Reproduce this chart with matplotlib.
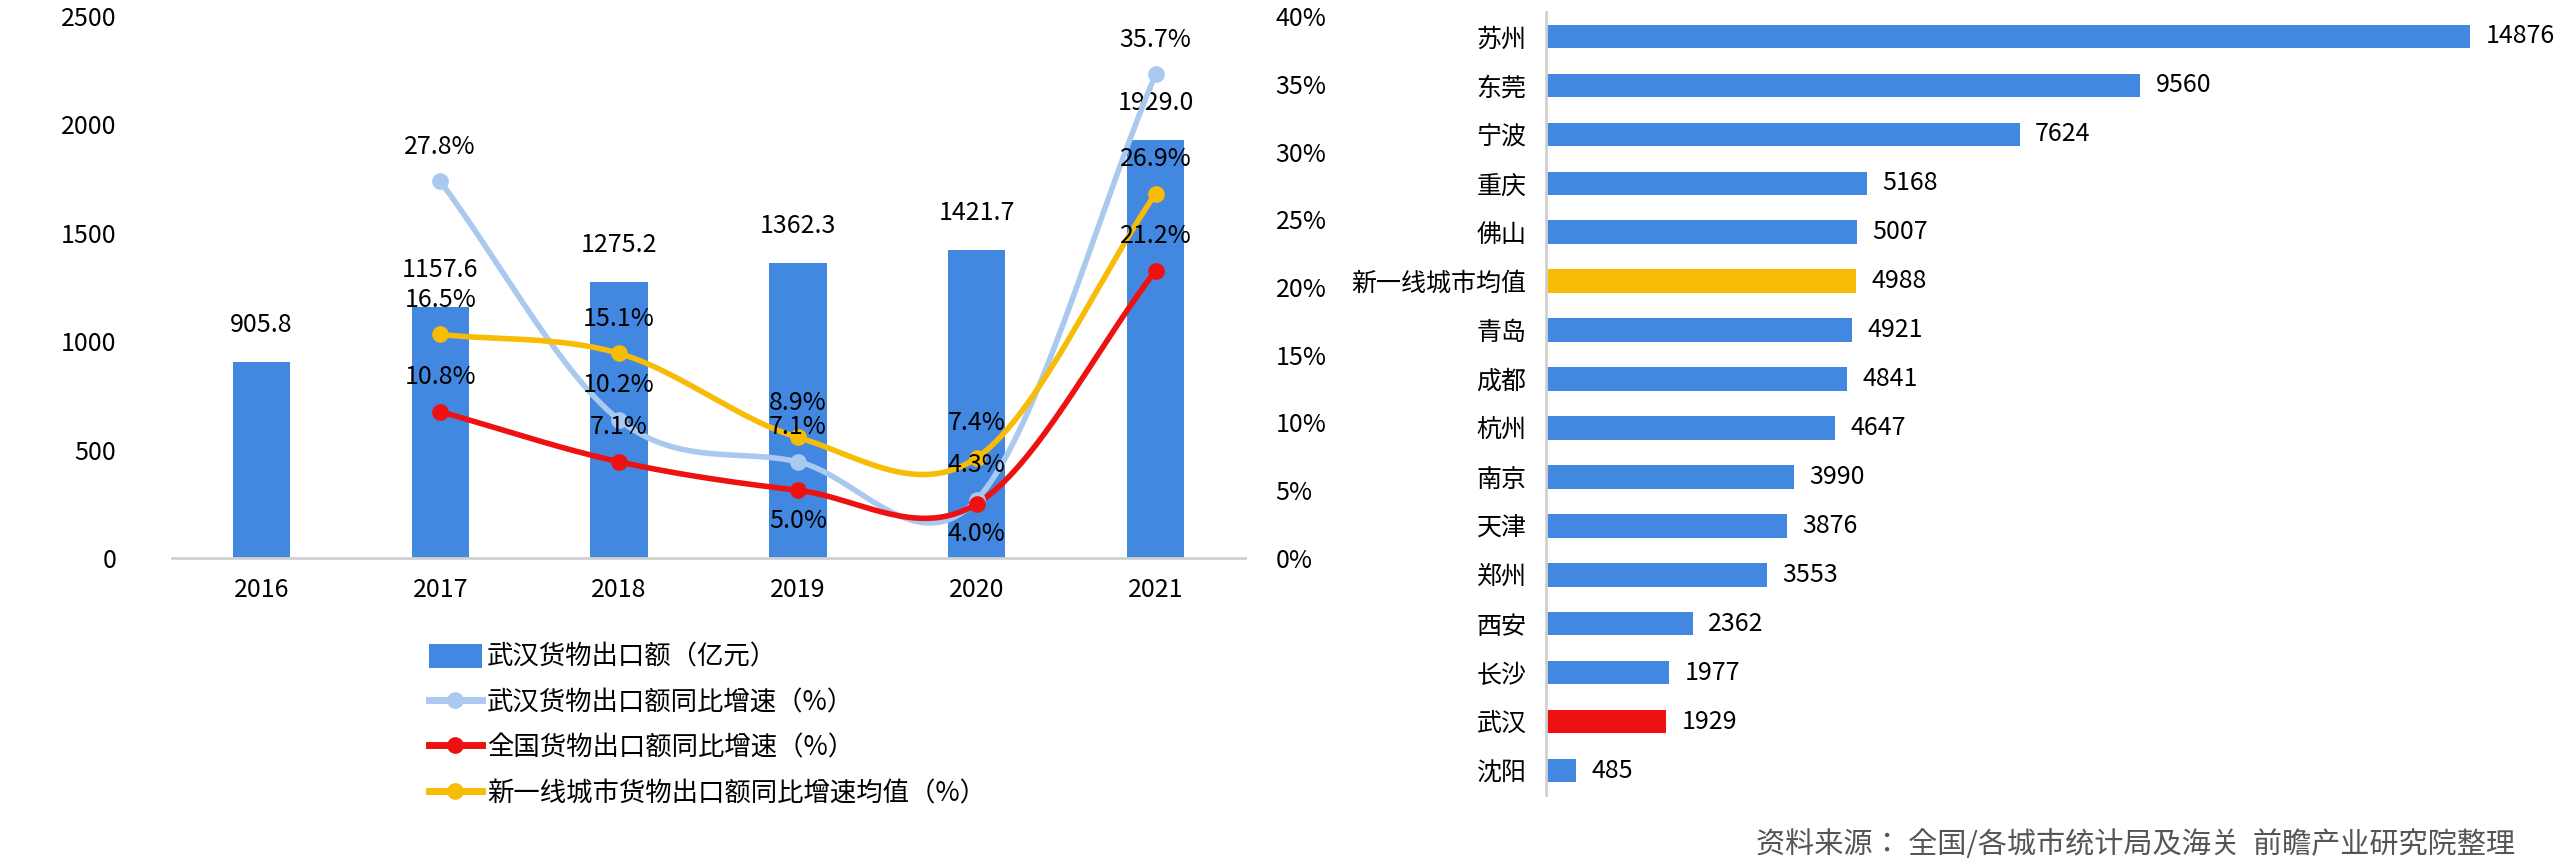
import numpy as np
import matplotlib
matplotlib.use("Agg")
import matplotlib.pyplot as plt
from matplotlib import font_manager as fm

cjk = sorted({f.name for f in fm.fontManager.ttflist if "CJK" in f.name})
pref = [n for n in ["Noto Sans CJK SC", "Noto Sans CJK JP"] if n in cjk] or cjk
plt.rcParams["font.family"] = (pref[:1] if pref else []) + ["DejaVu Sans"]

years = ["2016", "2017", "2018", "2019", "2020", "2021"]
export_val = [905.8, 1157.6, 1275.2, 1362.3, 1421.7, 1929.0]
wh_growth = [27.8, 10.2, 7.1, 4.3, 35.7]     # 2017-2021
cn_growth = [10.8, 7.1, 5.0, 4.0, 21.2]
t1_growth = [16.5, 15.1, 8.9, 7.4, 26.9]

cities = ["苏州", "东莞", "宁波", "重庆", "佛山", "新一线城市均值", "青岛", "成都", "杭州",
          "南京", "天津", "郑州", "西安", "长沙", "武汉", "沈阳"]
city_vals = [14876, 9560, 7624, 5168, 5007, 4988, 4921, 4841, 4647, 3990, 3876, 3553, 2362, 1977, 1929, 485]

BLUE = "#4287e0"; LBLUE = "#a9c9ef"; RED = "#ee1111"; YEL = "#f7bc06"

def smooth(x, y, n=40):
    x = np.asarray(x, float); y = np.asarray(y, float)
    px = np.concatenate([[2*x[0]-x[1]], x, [2*x[-1]-x[-2]]])
    py = np.concatenate([[2*y[0]-y[1]], y, [2*y[-1]-y[-2]]])
    ox, oy = [], []
    for i in range(1, len(px)-2):
        t = np.linspace(0, 1, n)
        for arr, o in ((px, ox), (py, oy)):
            p0, p1, p2, p3 = arr[i-1:i+3]
            o.extend(0.5*((2*p1) + (-p0+p2)*t + (2*p0-5*p1+4*p2-p3)*t**2 + (-p0+3*p1-3*p2+p3)*t**3))
    return ox, oy

fig = plt.figure(figsize=(25.69, 8.58), dpi=100)
ax = fig.add_axes([172/2569, 1-558/858, (1245-172)/2569, (558-16)/858])
x = np.arange(len(years))
ax.bar(x, export_val, width=0.32, color=BLUE, label="武汉货物出口额（亿元）", zorder=1)
for xi, v in zip(x, export_val):
    ax.text(xi, v + 110, f"{v:.1f}", ha="center", va="bottom", fontsize=18)
ax.set_ylim(0, 2500)
ax.set_xlim(-0.5, 5.5)
ax.set_yticks(range(0, 2501, 500))
ax.set_xticks(x); ax.set_xticklabels(years)
ax.tick_params(length=0, labelsize=18, pad=14)
ax.tick_params(axis="y", pad=40)
for s in ["top", "right", "left"]:
    ax.spines[s].set_visible(False)
ax.spines["bottom"].set_color("#d0d0d0"); ax.spines["bottom"].set_linewidth(2)

ax2 = ax.twinx()
ax2.set_ylim(0, 40)
ax2.set_yticks(range(0, 41, 5)); ax2.set_yticklabels([f"{v}%" for v in range(0, 41, 5)])
ax2.tick_params(length=0, labelsize=18, pad=22)
for s in ax2.spines.values():
    s.set_visible(False)
xs = x[1:]
handles = []
for vals, c, lab in ((wh_growth, LBLUE, "武汉货物出口额同比增速（%）"),
                     (cn_growth, RED, "全国货物出口额同比增速（%）"),
                     (t1_growth, YEL, "新一线城市货物出口额同比增速均值（%）")):
    sx, sy = smooth(xs, vals)
    ax2.plot(sx, sy, color=c, lw=4, zorder=3)
    ax2.plot(xs, vals, "o", color=c, ms=11, zorder=4)
    handles.append(ax2.plot([], [], "-o", color=c, lw=5, ms=11, label=lab)[0])
    for xi, v in zip(xs, vals):
        below = (vals is cn_growth and xi in (3, 4))
        ax2.text(xi, v - 1.3 if below else v + 1.6, f"{v:.1f}%", ha="center",
                 va="top" if below else "bottom", fontsize=18, zorder=5)

bh, bl = ax.get_legend_handles_labels()
fig.legend(bh + handles, bl + [h.get_label() for h in handles], loc="upper left",
           bbox_to_anchor=(405/2569, 1-620/858), frameon=False, fontsize=19,
           handlelength=2.0, handleheight=1.0, labelspacing=0.7, handletextpad=0.2)

# right chart
axr = fig.add_axes([1546/2569, 1-795/858, (2540-1546)/2569, (795-12)/858])
y = np.arange(len(cities))
colors = [YEL if c == "新一线城市均值" else RED if c == "武汉" else BLUE for c in cities]
axr.barh(y, city_vals, height=0.48, color=colors)
for yi, v in zip(y, city_vals):
    axr.text(v + 250, yi, str(v), va="center", ha="left", fontsize=18)
axr.set_yticks(y); axr.set_yticklabels(cities)
axr.set_xlim(0, 16000)
axr.set_ylim(len(cities) - 0.5, -0.5)
axr.set_xticks([])
axr.tick_params(length=0, labelsize=18, pad=14)
for s in ["top", "right", "bottom"]:
    axr.spines[s].set_visible(False)
axr.spines["left"].set_color("#d0d0d0"); axr.spines["left"].set_linewidth(2)

fig.text(2515/2569, 1-845/858, "资料来源： 全国/各城市统计局及海关  前瞻产业研究院整理",
         ha="right", va="center", fontsize=21, color="#555555")
fig.savefig("out.png", dpi=100, facecolor="white")
